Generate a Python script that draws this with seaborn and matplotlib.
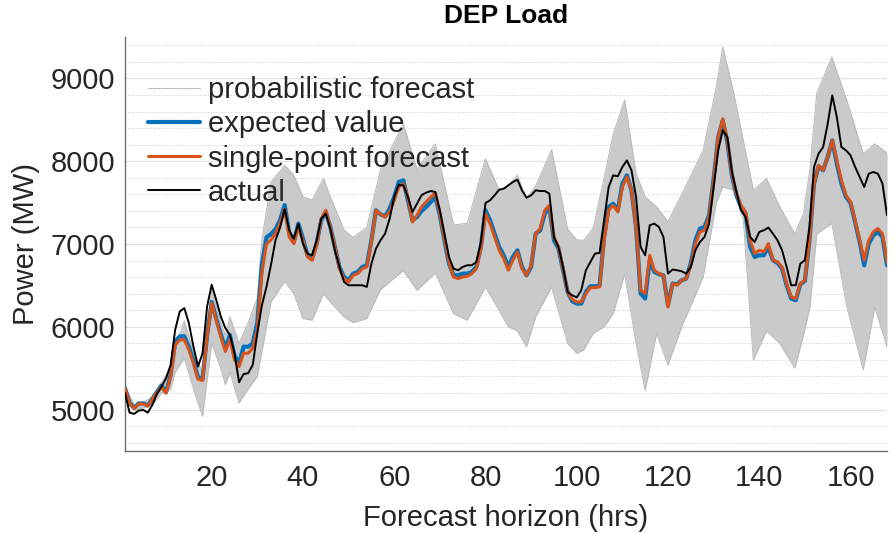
import numpy as np
import matplotlib
matplotlib.use("Agg")
import matplotlib.pyplot as plt
import seaborn as sns
from matplotlib.ticker import MultipleLocator

# Forecast horizon (hours)
hours = np.arange(1, 169)

# Expected value of the probabilistic forecast (MW)
expected = [
    5258, 5080, 5020, 5075, 5075, 5050, 5130, 5215, 5290, 5210,
    5420, 5820, 5885, 5885, 5760, 5590, 5390, 5370, 5900, 6300,
    6100, 5910, 5740, 5900, 5650, 5560, 5760, 5760, 5800, 6050,
    6750, 7080, 7120, 7180, 7290, 7470, 7125, 7025, 7246, 7065,
    6864, 6823, 7004, 7286, 7387, 7206, 6964, 6723, 6602, 6562,
    6642, 6662, 6723, 6743, 7045, 7407, 7358, 7334, 7427, 7568,
    7749, 7769, 7527, 7286, 7326, 7400, 7447, 7507, 7568, 7347,
    7045, 6763, 6622, 6622, 6642, 6642, 6663, 6723, 6964, 7407,
    7286, 7125, 6964, 6864, 6723, 6844, 6924, 6723, 6622, 6723,
    7125, 7165, 7367, 7447, 7045, 6944, 6683, 6421, 6310, 6280,
    6281, 6421, 6490, 6490, 6494, 7085, 7447, 7487, 7407, 7729,
    7829, 7648, 7206, 6401, 6341, 6803, 6663, 6635, 6622, 6260,
    6522, 6514, 6562, 6582, 6771, 7045, 7186, 7206, 7347, 7789,
    8292, 8493, 8232, 7829, 7588, 7447, 7367, 6964, 6844, 6864,
    6864, 6964, 6804, 6771, 6703, 6502, 6341, 6321, 6514, 6554,
    7045, 7729, 7938, 7890, 8051, 8252, 7970, 7729, 7568, 7495,
    7266, 7025, 6743, 7005, 7105, 7146, 7085, 6743,
]

# Single-point forecast (MW)
single_point = [
    5258, 5077, 5016, 5069, 5069, 5044, 5125, 5206, 5278, 5198,
    5399, 5780, 5843, 5843, 5722, 5560, 5367, 5351, 5883, 6286,
    6085, 5883, 5702, 5843, 5601, 5520, 5681, 5681, 5742, 5964,
    6650, 7000, 7050, 7130, 7250, 7420, 7085, 7004, 7206, 7045,
    6844, 6803, 6984, 7306, 7407, 7206, 6964, 6703, 6582, 6542,
    6622, 6642, 6703, 6723, 7025, 7407, 7358, 7326, 7387, 7527,
    7688, 7729, 7568, 7266, 7346, 7450, 7508, 7568, 7616, 7367,
    7065, 6783, 6602, 6582, 6602, 6610, 6642, 6703, 6944, 7367,
    7246, 7085, 6924, 6824, 6683, 6804, 6904, 6703, 6622, 6743,
    7125, 7185, 7407, 7467, 7085, 6964, 6703, 6421, 6330, 6300,
    6301, 6401, 6474, 6474, 6482, 7045, 7407, 7467, 7387, 7689,
    7809, 7648, 7206, 6442, 6401, 6864, 6683, 6643, 6622, 6240,
    6522, 6502, 6562, 6582, 6743, 7005, 7146, 7166, 7327, 7769,
    8292, 8513, 8252, 7849, 7608, 7467, 7387, 7045, 6884, 6924,
    6904, 7005, 6804, 6784, 6723, 6522, 6361, 6341, 6522, 6562,
    7045, 7729, 7950, 7890, 8051, 8252, 8010, 7769, 7588, 7508,
    7286, 7045, 6804, 7045, 7146, 7186, 7125, 6784,
]

# Actual load (MW)
actual = [
    5200, 4964, 4948, 4988, 4996, 4964, 5056, 5190, 5278, 5379,
    5540, 5964, 6185, 6226, 6044, 5762, 5520, 5681, 6246, 6508,
    6327, 6125, 5984, 5900, 5681, 5330, 5430, 5440, 5540, 5923,
    6260, 6480, 6750, 7050, 7200, 7420, 7165, 7065, 7246, 7004,
    6884, 6864, 7045, 7306, 7367, 7185, 6924, 6723, 6542, 6502,
    6502, 6502, 6502, 6482, 6763, 6944, 7045, 7125, 7306, 7568,
    7716, 7708, 7568, 7387, 7487, 7590, 7620, 7640, 7628, 7407,
    7125, 6844, 6703, 6683, 6723, 6743, 6743, 6783, 7025, 7495,
    7528, 7588, 7656, 7668, 7709, 7749, 7777, 7648, 7560, 7588,
    7648, 7640, 7640, 7608, 7085, 6964, 6723, 6421, 6380, 6355,
    6442, 6683, 6783, 6884, 6892, 7286, 7689, 7829, 7817, 7930,
    8010, 7890, 7568, 6964, 6864, 7226, 7246, 7206, 7085, 6643,
    6691, 6683, 6671, 6643, 6723, 6924, 7025, 7085, 7246, 7689,
    8131, 8373, 8292, 7870, 7628, 7407, 7327, 7085, 7025, 7146,
    7166, 7198, 7125, 7045, 6924, 6723, 6502, 6502, 6763, 6804,
    7206, 7930, 8091, 8171, 8453, 8795, 8533, 8171, 8131, 8071,
    7930, 7809, 7689, 7849, 7870, 7849, 7729, 7347,
]

# Spread of the probabilistic forecast ensemble (MW)
prob_hours = [
    1, 3, 5, 7, 9, 11, 12, 14, 16, 18, 20, 22, 23, 24, 26, 28, 30, 31,
    33, 36, 38, 40, 42, 44.5, 46, 49, 51, 54, 57, 62, 65, 69, 73, 76,
    80, 83, 85, 87, 89, 91, 94.5, 98, 100, 101.5, 103.6, 106, 108,
    110.5, 113, 115, 117.5, 120, 123, 127.7, 130.6, 132, 134.3, 136.5,
    138.7, 141.6, 144.5, 147.8, 149.7, 151.1, 152.6, 155.9, 159.2,
    162.8, 165.3, 168,
]
prob_upper = [
    5280, 5060, 5090, 5150, 5330, 5500, 5750, 6070, 5700, 5450, 6450,
    6050, 5900, 6120, 5800, 6050, 6350, 7050, 7750, 7950, 7830, 7570,
    7530, 7790, 7570, 7170, 7080, 7200, 7900, 8450, 7900, 8210, 7230,
    7250, 8030, 7650, 7700, 7830, 7550, 7700, 8140, 7180, 7050, 7045,
    7190, 7800, 8330, 8740, 7850, 7570, 7450, 7270, 7600, 8130, 8900,
    9380, 8850, 8250, 7650, 7790, 7450, 7120, 7370, 7900, 8820, 9260,
    8730, 8090, 8210, 8100,
]
prob_lower = [
    5200, 4990, 5020, 5060, 5200, 5250, 5450, 5620, 5250, 4920, 5800,
    5500, 5300, 5450, 5080, 5250, 5400, 5700, 6300, 6550, 6400, 6100,
    6080, 6400, 6300, 6120, 6050, 6100, 6450, 6680, 6440, 6650, 6160,
    6080, 6480, 6200, 6000, 5950, 5760, 6120, 6480, 5800, 5680, 5720,
    5920, 6000, 6160, 6640, 5800, 5230, 5920, 5540, 6000, 6600, 7500,
    7690, 7650, 7300, 5600, 5950, 5800, 5500, 5900, 6240, 7120, 7250,
    6240, 5480, 6240, 5760,
]

sns.set_style("white")
plt.rcParams["font.family"] = ["Liberation Sans", "DejaVu Sans"]

fig = plt.figure(figsize=(8.94, 5.33), dpi=100)
ax = fig.add_axes([0.1398, 0.1538, 0.8524, 0.7768])

# probabilistic forecast band
ax.fill_between(prob_hours, prob_lower, prob_upper, color="#cacaca", lw=0, zorder=1)
sns.lineplot(x=prob_hours, y=prob_upper, color="#bdbdbd", lw=0.8, ax=ax,
             label="probabilistic forecast", zorder=2)
sns.lineplot(x=prob_hours, y=prob_lower, color="#bdbdbd", lw=0.8, ax=ax, zorder=2)

sns.lineplot(x=hours, y=expected, color="#0072BD", lw=3, ax=ax,
             label="expected value", zorder=3)
sns.lineplot(x=hours, y=single_point, color="#D95319", lw=2.2, ax=ax,
             label="single-point forecast", zorder=4)
sns.lineplot(x=hours, y=actual, color="black", lw=1.4, ax=ax,
             label="actual", zorder=5)

ax.set_xlim(1, 168)
ax.set_ylim(4500, 9500)
ax.set_xticks(range(20, 161, 20))
ax.set_yticks(range(5000, 9001, 1000))
ax.yaxis.set_minor_locator(MultipleLocator(200))
ax.set_axisbelow(True)
ax.grid(axis="y", which="major", color="#e2e2e2", lw=0.9)
ax.grid(axis="y", which="minor", color="#cccccc", lw=0.7, ls=":")
ax.tick_params(axis="both", which="major", direction="in", length=5,
               labelsize=21, colors="#6e6e6e", labelcolor="#262626")
ax.tick_params(axis="x", pad=9)
ax.tick_params(axis="y", pad=7)
ax.tick_params(axis="y", which="minor", length=0)
for side in ["top", "right"]:
    ax.spines[side].set_visible(False)
for side in ["left", "bottom"]:
    ax.spines[side].set_color("#6e6e6e")
    ax.spines[side].set_linewidth(1)

ax.set_xlabel("Forecast horizon (hrs)", fontsize=21, labelpad=9, color="#262626")
ax.set_ylabel("Power (MW)", fontsize=21, labelpad=8, color="#262626")
ax.set_title("DEP Load", fontsize=19, fontweight="bold", pad=10, color="black")

ax.legend(loc="upper left", bbox_to_anchor=(0.03, 0.905), frameon=False,
          fontsize=21, handlelength=1.8, handletextpad=0.25,
          labelspacing=0.21, borderpad=0, borderaxespad=0)

fig.savefig("out.png", dpi=100)
